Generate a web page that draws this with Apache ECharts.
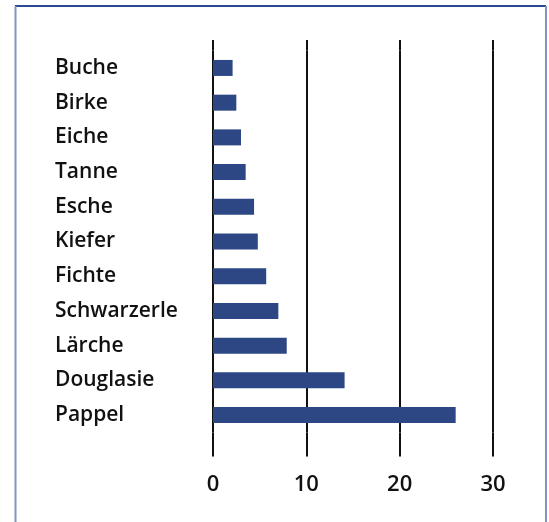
<!DOCTYPE html>
<html>
<head>
<meta charset="utf-8">
<script src="https://cdn.jsdelivr.net/npm/echarts@6/dist/echarts.min.js"></script>
<style>
  html, body { margin: 0; padding: 0; background: #ffffff; }
  #chart { width: 549px; height: 522px; }
</style>
</head>
<body>
<div id="chart"></div>
<script>
// Tree species, listed top to bottom
const species = ['Buche', 'Birke', 'Eiche', 'Tanne', 'Esche', 'Kiefer', 'Fichte',
                 'Schwarzerle', 'Lärche', 'Douglasie', 'Pappel'];
// Value per species
const values = [2.1, 2.5, 3.0, 3.5, 4.4, 4.8, 5.7, 7.0, 7.9, 14.1, 26.0];
// Value axis ticks
const xTicks = [0, 10, 20, 30];

const chart = echarts.init(document.getElementById('chart'), null, { renderer: 'canvas' });

const lineColor = '#111111';

chart.setOption({
  backgroundColor: '#ffffff',
  animation: false,
  grid: { left: 213, right: 56, top: 50.6, bottom: 89.6, containLabel: false },
  xAxis: [
    {
      type: 'value',
      position: 'bottom',
      min: xTicks[0],
      max: xTicks[xTicks.length - 1],
      interval: xTicks[1] - xTicks[0],
      axisLine: { show: false },
      axisTick: { show: true, length: 24, lineStyle: { color: lineColor, width: 2 } },
      splitLine: { show: true, lineStyle: { color: lineColor, width: 2 } },
      axisLabel: {
        margin: 41,
        color: '#111111',
        fontFamily: 'Open Sans',
        fontWeight: 600,
        fontSize: 22
      }
    },
    {
      type: 'value',
      position: 'top',
      min: xTicks[0],
      max: xTicks[xTicks.length - 1],
      interval: xTicks[1] - xTicks[0],
      axisLine: { show: false },
      axisTick: { show: true, length: 10.6, lineStyle: { color: lineColor, width: 2 } },
      splitLine: { show: false },
      axisLabel: { show: false }
    }
  ],
  yAxis: {
    type: 'category',
    data: species,
    inverse: true,
    axisLine: { show: false },
    axisTick: { show: false },
    splitLine: { show: false },
    axisLabel: {
      align: 'left',
      margin: 158,
      color: '#111111',
      fontFamily: 'Open Sans',
      fontWeight: 600,
      fontSize: 21
    }
  },
  series: [{
    type: 'bar',
    data: values,
    barWidth: 16,
    itemStyle: { color: '#2c4783' }
  }],
  graphic: [
    { type: 'line', shape: { x1: 15, y1: 6, x2: 546, y2: 6 },
      style: { stroke: '#2b4a8e', lineWidth: 2 } },
    { type: 'line', shape: { x1: 15.5, y1: 6, x2: 15.5, y2: 522 },
      style: { stroke: '#8194c2', lineWidth: 2 } },
    { type: 'line', shape: { x1: 546, y1: 6, x2: 546, y2: 522 },
      style: { stroke: '#8194c2', lineWidth: 2 } }
  ]
});
</script>
</body>
</html>
